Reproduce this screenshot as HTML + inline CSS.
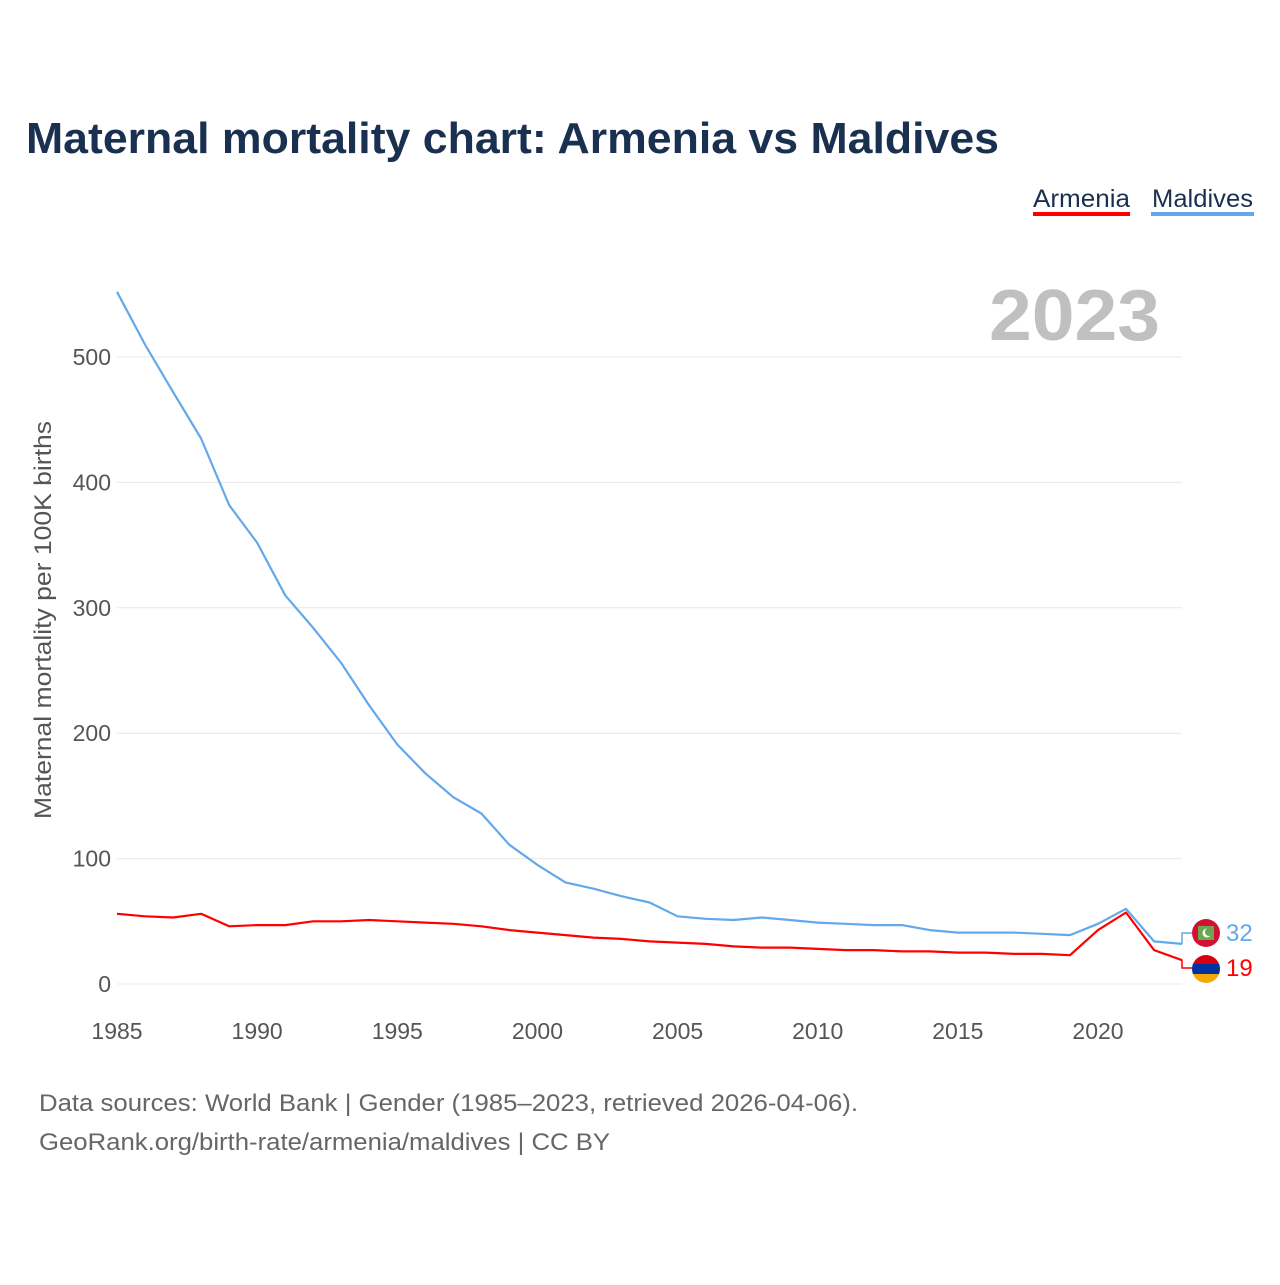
<!DOCTYPE html>
<html><head><meta charset="utf-8"><style>
body{margin:0;background:#fff;font-family:"Liberation Sans",sans-serif}
</style></head><body>
<svg width="1280" height="1280" viewBox="0 0 1280 1280" xmlns="http://www.w3.org/2000/svg">
<rect width="1280" height="1280" fill="#fff"/>
<text x="26" y="153" font-size="44" font-weight="bold" fill="#1a3050" textLength="973" lengthAdjust="spacingAndGlyphs">Maternal mortality chart: Armenia vs Maldives</text>
<g>
<text x="1033" y="207" font-size="25" fill="#1a3050" textLength="97" lengthAdjust="spacingAndGlyphs">Armenia</text>
<rect x="1033" y="212" width="97" height="4" fill="#ff0000"/>
<text x="1152" y="207" font-size="25" fill="#1a3050" textLength="101" lengthAdjust="spacingAndGlyphs">Maldives</text>
<rect x="1151" y="212" width="103" height="4" fill="#62a8ea"/>
</g>
<text x="989" y="340" font-size="72" font-weight="bold" fill="#c0c0c0" textLength="171" lengthAdjust="spacingAndGlyphs">2023</text>
<g id="grid"></g>
<g id="axes"></g>
<text transform="translate(51,620) rotate(-90)" font-size="24" fill="#555" text-anchor="middle" textLength="398" lengthAdjust="spacingAndGlyphs">Maternal mortality per 100K births</text>
<g id="lines"></g>
<g id="ends"></g>
<text x="39" y="1111" font-size="24" fill="#666" textLength="819" lengthAdjust="spacingAndGlyphs">Data sources: World Bank | Gender (1985–2023, retrieved 2026-04-06).</text>
<text x="39" y="1150" font-size="24" fill="#666" textLength="571" lengthAdjust="spacingAndGlyphs">GeoRank.org/birth-rate/armenia/maldives | CC BY</text>
</svg>
<script>
const years=[];for(let y=1985;y<=2023;y++)years.push(y);
const maldives=[552,510,472,435,382,352,310,284,256,222,191,168,149,136,111,95,81,76,70,65,54,52,51,53,51,49,48,47,47,43,41,41,41,40,39,48,60,34,32];
const armenia=[56,54,53,56,46,47,47,50,50,51,50,49,48,46,43,41,39,37,36,34,33,32,30,29,29,28,27,27,26,26,25,25,24,24,23,43,57,27,19];
const yTicks=[0,100,200,300,400,500];
const xTicks=[1985,1990,1995,2000,2005,2010,2015,2020];
const NS="http://www.w3.org/2000/svg";
const xs=y=>117+(y-1985)*(1098-117)/35;
const ys=v=>984-v*(984-357)/500;
function mk(t,a,p){const e=document.createElementNS(NS,t);for(const k in a)e.setAttribute(k,a[k]);p.appendChild(e);return e;}
const grid=document.getElementById('grid'),axes=document.getElementById('axes');
yTicks.forEach(v=>{
 const l=mk('line',{x1:117,x2:1182,y1:ys(v),y2:ys(v),stroke:'#e8e8e8','stroke-width':1},grid);
 
 
 const t=mk('text',{x:111,y:ys(v)+8,'font-size':23,fill:'#555','text-anchor':'end'},axes);
 t.textContent=v;
 
 
});
xTicks.forEach(v=>{
 const t=mk('text',{x:xs(v),y:1039,'font-size':23,fill:'#555','text-anchor':'middle'},axes);
 t.textContent=v;
 
 
});
const lines=document.getElementById('lines');
function path(vals,color,name){
 const d=vals.map((v,i)=>(i?'L':'M')+xs(years[i]).toFixed(1)+','+ys(v).toFixed(1)).join('');
 const p=mk('path',{d:d,fill:'none',stroke:color,'stroke-width':2.2,'stroke-linejoin':'round'},lines);
 
 
}
path(maldives,'#62a8ea','maldives-line');
path(armenia,'#ff0000','armenia-line');
const ends=document.getElementById('ends');
const lastM=maldives[maldives.length-1],lastA=armenia[armenia.length-1];
const xe=xs(2023);
mk('path',{d:`M${xe},${ys(lastM)}H1182V933H1192`,fill:'none',stroke:'#62a8ea','stroke-width':1.5},ends);
mk('path',{d:`M${xe},${ys(lastA)}H1182V968H1192`,fill:'none',stroke:'#ff0000','stroke-width':1.5},ends);
const gm=mk('g',{},ends);


mk('circle',{cx:1206,cy:933,r:14,fill:'#d21034'},gm);
mk('rect',{x:1198,y:926,width:16,height:14,fill:'#6aa84f'},gm);
mk('circle',{cx:1207,cy:933,r:4.5,fill:'#fff'},gm);
mk('circle',{cx:1209,cy:932,r:4,fill:'#6aa84f'},gm);
const ga=mk('g',{},ends);


const cp=mk('clipPath',{id:'ac'},ga);mk('circle',{cx:1206,cy:969,r:14},cp);
mk('rect',{x:1192,y:955,width:28,height:10,fill:'#d90012','clip-path':'url(#ac)'},ga);
mk('rect',{x:1192,y:964,width:28,height:10,fill:'#0033a0','clip-path':'url(#ac)'},ga);
mk('rect',{x:1192,y:974,width:28,height:10,fill:'#f2a800','clip-path':'url(#ac)'},ga);
const tm=mk('text',{x:1226,y:941,'font-size':24,fill:'#62a8ea'},ends);
tm.textContent=lastM;


const ta=mk('text',{x:1226,y:976,'font-size':24,fill:'#ff0000'},ends);
ta.textContent=lastA;


</script>
</body></html>
